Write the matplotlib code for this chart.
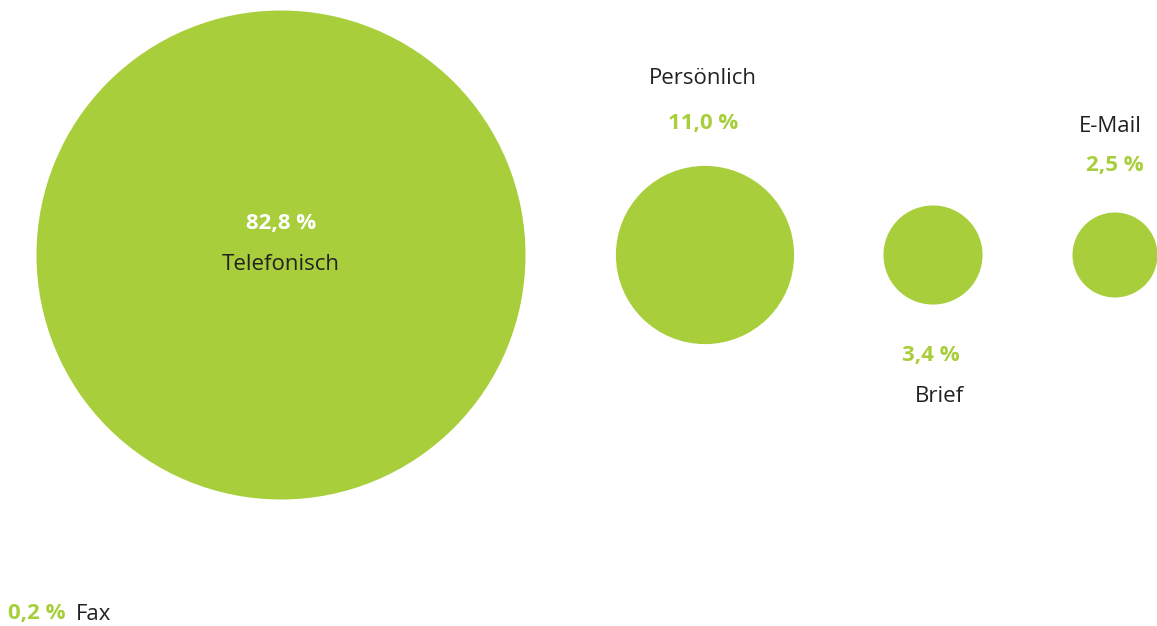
import numpy as np
import matplotlib
matplotlib.use("Agg")
from matplotlib import pyplot as plt
from matplotlib.patches import Circle

# data
channels = ["Telefonisch", "Persönlich", "Brief", "E-Mail", "Fax"]
shares = [82.8, 11.0, 3.4, 2.5, 0.2]

GREEN = "#a8cf3b"
DARK = "#222222"
FS = 16
plt.rcParams["font.family"] = ["Open Sans", "DejaVu Sans"]

W, H = 1157, 626
fig = plt.figure(figsize=(W / 100, H / 100), dpi=100)
ax = fig.add_axes([0, 0, 1, 1])
ax.set_xlim(0, W)
ax.set_ylim(H, 0)
ax.set_aspect("equal")
ax.axis("off")

# layout: circle centres (pixels) and where the labels go
centres_x = [281, 705, 933, 1115]
centre_y = 255
scale = 244.5 / np.sqrt(shares[0])  # area proportional bubbles


def fmt(v):
    return f"{v:.1f}".replace(".", ",") + " %"


for i, cx in enumerate(centres_x):
    r = scale * np.sqrt(shares[i])
    ax.add_patch(Circle((cx, centre_y), r, color=GREEN, lw=0))

# Telefonisch: inside the bubble
ax.text(281, 224, fmt(shares[0]), color="white", fontsize=FS, fontweight="bold",
        ha="center", va="center")
ax.text(281, 264, channels[0], color=DARK, fontsize=FS, ha="center", va="center")

# Persönlich: above
ax.text(703, 78, channels[1], color=DARK, fontsize=FS, ha="center", va="center")
ax.text(703, 124, fmt(shares[1]), color=GREEN, fontsize=FS, fontweight="bold",
        ha="center", va="center")

# Brief: below
ax.text(931, 356, fmt(shares[2]), color=GREEN, fontsize=FS, fontweight="bold",
        ha="center", va="center")
ax.text(939, 397, channels[2], color=DARK, fontsize=FS, ha="center", va="center")

# E-Mail: above
ax.text(1110, 126, channels[3], color=DARK, fontsize=FS, ha="center", va="center")
ax.text(1115, 166, fmt(shares[3]), color=GREEN, fontsize=FS, fontweight="bold",
        ha="center", va="center")

# Fax: too small to draw, only a label
ax.text(8, 614, fmt(shares[4]), color=GREEN, fontsize=FS, fontweight="bold",
        ha="left", va="center")
ax.text(76, 614, channels[4], color=DARK, fontsize=FS, ha="left", va="center")

fig.savefig("out.png", dpi=100)
